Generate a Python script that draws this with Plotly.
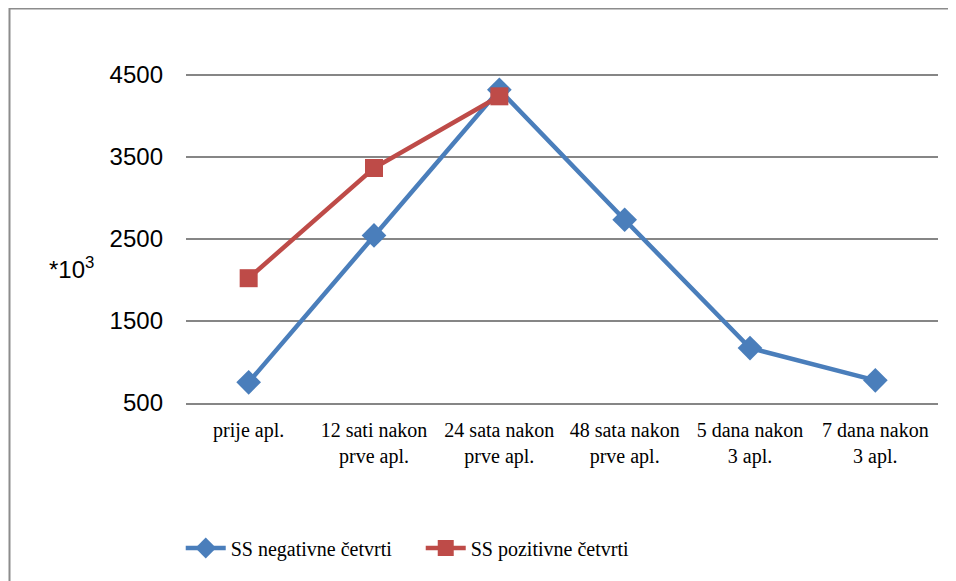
import plotly.graph_objects as go

categories = ["prije apl.", "12 sati nakon<br>prve apl.", "24 sata nakon<br>prve apl.",
              "48 sata nakon<br>prve apl.", "5 dana nakon<br>3 apl.", "7 dana nakon<br>3 apl."]
neg_values = [752, 2544, 4320, 2735, 1170, 776]
pos_values = [2022, 3366, 4240]
y_ticks = [500, 1500, 2500, 3500, 4500]

BLUE = "#4A7EBB"
RED = "#BE4B48"
GRID = "#868686"
SERIF = "Liberation Serif"
SANS = "Liberation Sans, Arial, sans-serif"

fig = go.Figure()
fig.add_trace(go.Scatter(
    x=categories, y=neg_values, name="SS negativne četvrti", mode="lines+markers",
    line=dict(color=BLUE, width=4.5),
    marker=dict(symbol="diamond", size=19, color=BLUE),
))
fig.add_trace(go.Scatter(
    x=categories[:len(pos_values)], y=pos_values, name="SS pozitivne četvrti", mode="lines+markers",
    line=dict(color=RED, width=4.5),
    marker=dict(symbol="square", size=18, color=RED),
))

# page has an 8px body margin: page coords = fig coords + 8
W, H = 948, 573
L, R, T, B = 178, 18, 26, 178
PW, PH = W - L - R, H - T - B
fig.update_layout(
    width=W, height=H,
    margin=dict(l=L, r=R, t=T, b=B),
    paper_bgcolor="white", plot_bgcolor="white",
    showlegend=True,
    legend=dict(
        orientation="h", x=-0.007, xanchor="left", y=(395 - 540) / PH, yanchor="middle",
        font=dict(family=SERIF, size=20, color="black"),
        entrywidthmode="pixels", entrywidth=185,
        itemwidth=40,
    ),
    xaxis=dict(
        type="category", categoryorder="array", categoryarray=categories,
        range=[-0.5, len(categories) - 0.5],
        showgrid=False, showline=True, linecolor=GRID, linewidth=1.5,
        ticks="", tickfont=dict(family=SERIF, size=20, color="black"),
        ticklabelstandoff=8,
    ),
    yaxis=dict(
        range=[500, 5000], tickvals=y_ticks, ticktext=[str(v) for v in y_ticks],
        showgrid=True, gridcolor=GRID, gridwidth=1.5, zeroline=False,
        showline=False, ticks="",
        tickfont=dict(family=SANS, size=24, color="black"),
        ticklabelstandoff=22,
    ),
    shapes=[dict(type="rect", xref="paper", yref="paper",
                 x0=(1.5 - L) / PW, x1=(W + 5 - L) / PW,
                 y0=(H - B - H - 5) / PH, y1=(H - B - 0.5) / PH,
                 line=dict(color="#8C8C8C", width=2), fillcolor="rgba(0,0,0,0)", layer="below")],
    annotations=[dict(text="*10<sup>3</sup>", xref="paper", yref="paper",
                      x=(63 - L) / PW, y=(H - B - 260) / PH,
                      xanchor="center", yanchor="middle", showarrow=False,
                      font=dict(family=SANS, size=24, color="black"))],
)

fig.write_html("out.html")
